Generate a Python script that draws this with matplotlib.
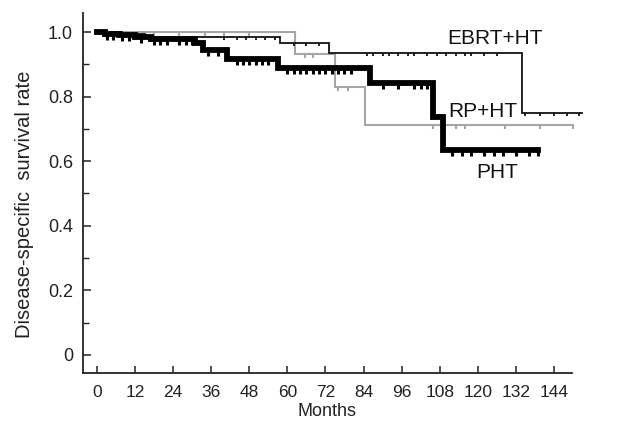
import matplotlib
matplotlib.use("Agg")
import matplotlib.pyplot as plt
from matplotlib.ticker import MultipleLocator

plt.rcParams['font.family'] = ['Liberation Sans', 'DejaVu Sans']

# Kaplan-Meier step data (time in months, survival after each step)
ebrt_t = [0, 8, 15, 57.7, 73, 134, 152.8]
ebrt_s = [1.0, 0.993, 0.985, 0.965, 0.935, 0.749, 0.749]
ebrt_cens = [20, 40, 44, 47, 50, 53, 56, 62, 66, 70, 85, 87, 90, 92, 95, 98,
             100, 104, 107, 110, 113, 116, 118, 122, 126, 135, 139.5, 144, 148, 152]

rp_t = [0, 62.4, 75, 84.5, 150]
rp_s = [1.0, 0.933, 0.83, 0.712, 0.712]
rp_cens = [18, 26, 34, 40, 48, 65.5, 68, 76, 79, 106, 113, 116, 128.5, 139.5, 150]

pht_t = [0, 2.5, 7, 12, 17, 31, 33.5, 41, 57, 86, 106, 109, 139]
pht_s = [1.0, 0.995, 0.99, 0.985, 0.98, 0.966, 0.944, 0.918, 0.89, 0.843, 0.737,
         0.635, 0.635]
pht_cens = [3, 5, 8, 10, 14, 18, 20, 22, 26, 28, 30, 35, 38, 44, 46, 48, 50, 52,
            54, 60, 62, 64, 66, 68, 70, 72, 74, 76, 78, 80, 90, 95, 100, 102, 104,
            112, 115, 118, 122, 125, 128, 132, 136, 139]

labels = ["EBRT+HT", "RP+HT", "PHT"]
label_pos = [(110.3, 0.981), (110.6, 0.754), (119.5, 0.565)]

xticks = list(range(0, 145, 12))
yticks = [0, 0.2, 0.4, 0.6, 0.8, 1.0]
ytick_labels = ["0", "0.2", "0.4", "0.6", "0.8", "1.0"]

def surv_at(ts, ss, t):
    v = ss[0]
    for ti, si in zip(ts, ss):
        if t >= ti:
            v = si
    return v

fig = plt.figure(figsize=(6.2, 4.25), dpi=100)
ax = fig.add_axes([0.1334, 0.1224, 0.9226 - 0.1334, 0.9694 - 0.1224])

tick_marker = [(0, 0), (0, -1)]
series = [
    (rp_t, rp_s, rp_cens, "#a6a6a6", 1.5, 6),
    (ebrt_t, ebrt_s, ebrt_cens, "#111111", 1.3, 5),
    (pht_t, pht_s, pht_cens, "#000000", 4.2, 9),
]
for ts, ss, cens, col, lw, ms in series:
    ax.step(ts, ss, where='post', color=col, lw=lw, clip_on=False,
            solid_joinstyle='miter')
    cy = [surv_at(ts, ss, c) for c in cens]
    ax.plot(cens, cy, linestyle='none', marker=tick_marker, markersize=ms,
            markeredgewidth=lw if lw < 2 else 2.2, color=col, clip_on=False)

for lab, (x, y) in zip(labels, label_pos):
    ax.text(x, y, lab, fontsize=15, ha='left', va='center', color='#111111')

ax.set_xlim(-4.5, 149.7)
ax.set_ylim(-0.056, 1.059)
ax.set_xticks(xticks)
ax.set_yticks(yticks)
ax.set_yticklabels(ytick_labels)
ax.yaxis.set_minor_locator(MultipleLocator(0.1))

for s in ['top', 'right']:
    ax.spines[s].set_visible(False)
for s in ['left', 'bottom']:
    ax.spines[s].set_linewidth(1.3)
    ax.spines[s].set_color('#222222')

ax.tick_params(axis='x', direction='in', length=5, width=1.1, pad=9,
               labelsize=12.5, colors='#222222')
ax.tick_params(axis='y', which='major', direction='in', length=6, width=1.1,
               pad=7, labelsize=13, colors='#222222')
ax.tick_params(axis='y', which='minor', direction='in', length=4, width=1.0,
               colors='#222222')

ax.set_xlabel("Months", fontsize=13, color='#222222', labelpad=2)
ax.set_ylabel("Disease-specific  survival rate", fontsize=14.5, color='#222222')
ax.yaxis.set_label_coords(-0.1, 0.468)

fig.savefig("out.png", dpi=100)
